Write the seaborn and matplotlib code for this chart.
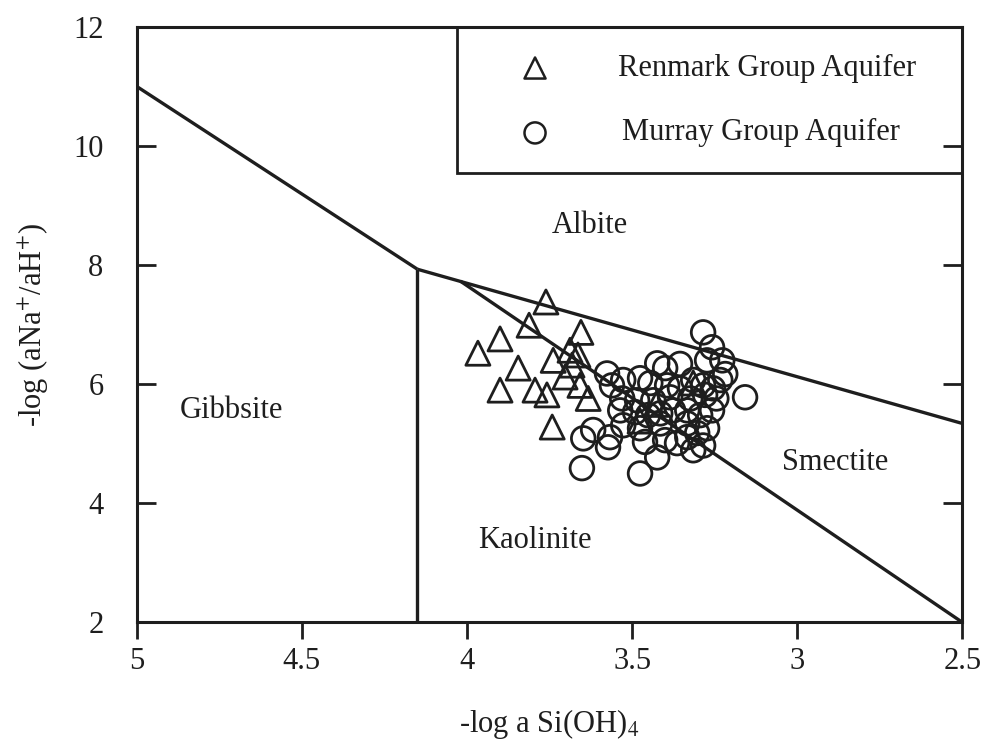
import matplotlib
matplotlib.use("Agg")
import matplotlib.pyplot as plt
import seaborn as sns
import pandas as pd
from matplotlib.patches import Rectangle

# ---------------- data ----------------
renmark_x = [3.761, 3.812, 3.900, 3.967, 3.655, 3.739, 3.688, 3.664, 3.845, 3.900,
             3.794, 3.758, 3.703, 3.658, 3.633, 3.742, 3.682, 3.476, 3.427, 3.315]
renmark_y = [7.38, 6.99, 6.76, 6.52, 6.87, 6.40, 6.57, 6.49, 6.27, 5.90,
             5.90, 5.82, 6.12, 5.98, 5.76, 5.28, 6.32, 5.38, 5.66, 6.02]

murray_x = [3.285, 3.258, 3.227, 3.218, 3.273, 3.158, 3.355, 3.424, 3.400, 3.576,
            3.527, 3.476, 3.445, 3.394, 3.355, 3.315, 3.285, 3.255, 3.233, 3.561,
            3.530, 3.485, 3.436, 3.385, 3.324, 3.279, 3.245, 3.536, 3.491, 3.452,
            3.415, 3.376, 3.333, 3.294, 3.258, 3.618, 3.648, 3.567, 3.527, 3.476,
            3.415, 3.333, 3.303, 3.273, 3.573, 3.461, 3.364, 3.315, 3.333, 3.400,
            3.285, 3.424, 3.476, 3.652]
murray_y = [6.87, 6.62, 6.40, 6.17, 6.40, 5.78, 6.34, 6.35, 6.27, 6.18,
            6.07, 6.10, 6.02, 5.98, 5.93, 6.07, 5.98, 5.93, 6.07, 5.98,
            5.76, 5.73, 5.73, 5.78, 5.76, 5.82, 5.76, 5.56, 5.53, 5.48,
            5.51, 5.56, 5.56, 5.48, 5.56, 5.23, 5.09, 5.11, 5.31, 5.26,
            5.34, 5.34, 5.18, 5.26, 4.94, 5.03, 5.01, 4.89, 5.11, 5.06,
            4.97, 4.77, 4.50, 4.59]

# stability field boundaries
gibbsite_albite_x = [5.0, 4.15]
gibbsite_albite_y = [11.0, 7.93]
albite_upper_x = [4.15, 2.5]
albite_upper_y = [7.93, 5.34]
gibbsite_kaolinite_x = [4.15, 4.15]
gibbsite_kaolinite_y = [7.93, 2.0]
kaolinite_x = [4.02, 2.5]
kaolinite_y = [7.73, 2.0]

field_labels = ["Albite", "Gibbsite", "Kaolinite", "Smectite"]
field_label_x = [3.627, 4.712, 3.794, 2.885]
field_label_y = [8.67, 5.56, 3.38, 4.69]

x_ticks = [5, 4.5, 4, 3.5, 3, 2.5]
x_tick_labels = ["5", "4.5", "4", "3.5", "3", "2.5"]
y_ticks = [2, 4, 6, 8, 10, 12]
y_tick_labels = ["2", "4", "6", "8", "10", "12"]

legend_names = ["Renmark Group Aquifer", "Murray Group Aquifer"]

# ---------------- style ----------------
sns.set_theme(style="white")
plt.rcParams["font.family"] = ["Liberation Serif", "DejaVu Serif"]
plt.rcParams["mathtext.fontset"] = "stix"

FS = 22
INK = "#1e1e1e"

fig = plt.figure(figsize=(9.84, 7.48), dpi=100)
ax = fig.add_axes([0.139, 0.168, 0.839, 0.796])

df_r = pd.DataFrame({"x": renmark_x, "y": renmark_y})
df_m = pd.DataFrame({"x": murray_x, "y": murray_y})

# boundary lines
for xs, ys in [(gibbsite_albite_x, gibbsite_albite_y),
               (albite_upper_x, albite_upper_y),
               (gibbsite_kaolinite_x, gibbsite_kaolinite_y),
               (kaolinite_x, kaolinite_y)]:
    ax.plot(xs, ys, color=INK, lw=2.4, solid_capstyle="butt", zorder=2)

sns.scatterplot(data=df_r, x="x", y="y", marker="^", s=300,
                facecolor="none", edgecolor=INK, linewidth=2.0, ax=ax, zorder=3)
sns.scatterplot(data=df_m, x="x", y="y", marker="o", s=290,
                facecolor="none", edgecolor=INK, linewidth=2.0, ax=ax, zorder=3)

# legend box (drawn inside top-right corner)
ax.add_patch(Rectangle((2.5, 9.55), 4.03 - 2.5, 12 - 9.55, fill=False,
                       edgecolor=INK, lw=2.0, zorder=4))
ax.scatter([3.794], [11.31], marker="^", s=230, facecolor="none",
           edgecolor=INK, linewidth=1.8, zorder=5)
ax.scatter([3.794], [10.22], marker="o", s=230, facecolor="none",
           edgecolor=INK, linewidth=1.8, zorder=5)
ax.text(3.542, 11.31, legend_names[0], fontsize=FS, color=INK,
        ha="left", va="center")
ax.text(3.530, 10.22, legend_names[1], fontsize=FS, color=INK,
        ha="left", va="center")

for lab, lx, ly in zip(field_labels, field_label_x, field_label_y):
    ax.text(lx, ly, lab, fontsize=FS, color=INK, ha="center", va="center")

ax.set_xlim(5, 2.5)
ax.set_ylim(2, 12)
ax.set_xticks(x_ticks)
ax.set_xticklabels(x_tick_labels)
ax.set_yticks(y_ticks)
ax.set_yticklabels(y_tick_labels)

ax.tick_params(axis="x", direction="out", length=12, width=2, pad=6,
               labelsize=FS, colors=INK, bottom=True, top=False)
ax.tick_params(axis="y", direction="in", length=14, width=2, pad=24,
               labelsize=FS, colors=INK, left=True, right=True)

for sp in ax.spines.values():
    sp.set_visible(True)
    sp.set_color(INK)
    sp.set_linewidth(2.2)

ax.set_xlabel("-log a Si(OH)$_4$", fontsize=FS, color=INK, labelpad=22)
ax.set_ylabel("-log (aNa$^{+}$/aH$^{+}$)", fontsize=FS, color=INK, labelpad=16)

fig.savefig("out.png", dpi=100, facecolor="white")
